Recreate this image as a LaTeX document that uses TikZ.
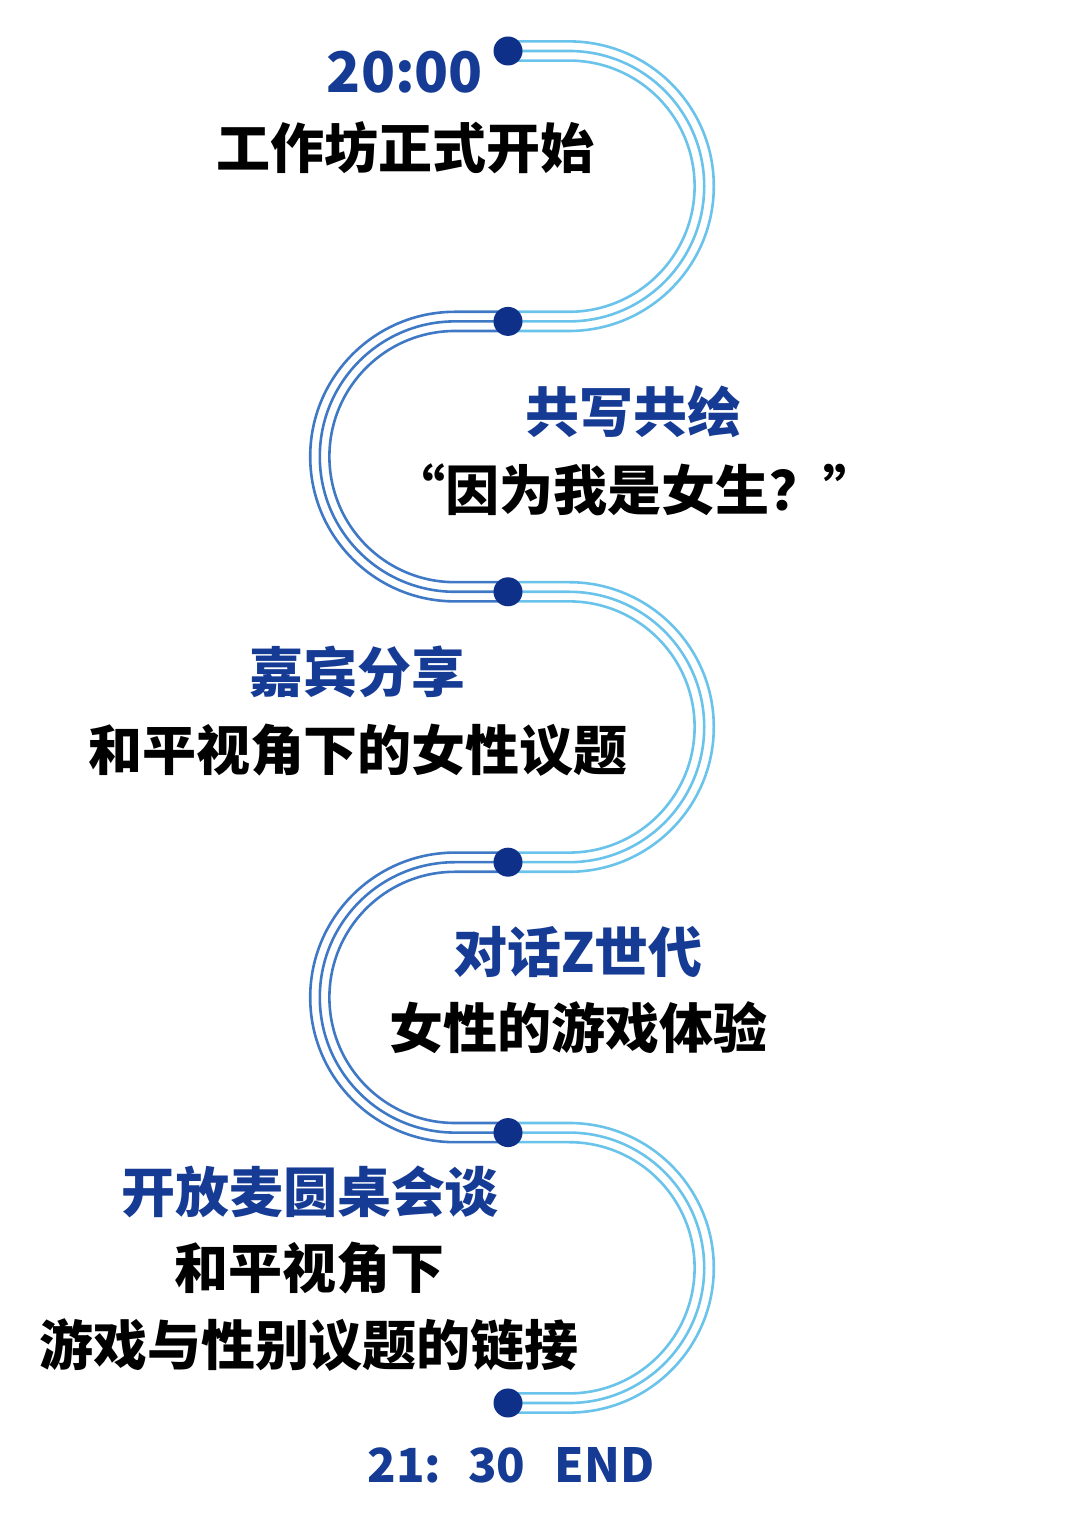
\documentclass[tikz,border=0pt]{standalone}
\usepackage{fontspec}
\setmainfont{Noto Sans CJK SC}
\begin{document}
\begin{tikzpicture}[x=1pt,y=1pt,
  lightline/.style={draw=trackLight,line width=2.6pt},
  darkline/.style={draw=trackDark,line width=2.6pt},
  dotmark/.style={circle,fill=dotBlue,minimum size=29pt,inner sep=0pt},
  bluetitle/.style={text=titleBlue,font=\bfseries\fontsize{54}{60}\selectfont,inner sep=0pt,anchor=center},
  blacktext/.style={text=black,font=\bfseries\fontsize{54}{60}\selectfont,inner sep=0pt,anchor=center}]
\definecolor{trackLight}{HTML}{6AC3EA}
\definecolor{trackDark}{HTML}{3F78C4}
\definecolor{dotBlue}{HTML}{0F3089}
\definecolor{titleBlue}{HTML}{153B95}
\useasboundingbox (0,0) rectangle (1080,1527);
\fill[white] (0,0) rectangle (1080,1527);
% dot positions
\coordinate (p0) at (508,1476);
\coordinate (p1) at (508,1205.6);
\coordinate (p2) at (508,935.2);
\coordinate (p3) at (508,664.8);
\coordinate (p4) at (508,394.4);
\coordinate (p5) at (508,124);
% right U-turns (light)
\foreach \a/\b in {p0/p1,p2/p3,p4/p5}{
  \foreach \d in {-9.6,0,9.6}{
    \draw[lightline] ([yshift=\d pt]\a) -- ++(61,0)
      arc[start angle=90,end angle=-90,radius=135.2+\d] -- ([yshift=-\d pt]\b);
  }
}
% left U-turns (dark)
\foreach \a/\b in {p1/p2,p3/p4}{
  \foreach \d in {-9.6,0,9.6}{
    \draw[darkline] ([yshift=\d pt]\a) -- ++(-53,0)
      arc[start angle=90,end angle=270,radius=135.2+\d] -- ([yshift=-\d pt]\b);
  }
}
% dots
\foreach \p in {p0,p1,p2,p3,p4,p5}{
  \node[dotmark] (d\p) at (\p) {};
}
% texts
\node[bluetitle,font=\bfseries\fontsize{56}{60}\selectfont] (t0) at (405,1455) {20:00};
\node[blacktext] (s0) at (405,1379) {工作坊正式开始};
\node[bluetitle] (t1) at (633,1115) {共写共绘};
\node[blacktext] (s1) at (634,1037) {“因为我是女生？”};
\node[bluetitle] (t2) at (357,855) {嘉宾分享};
\node[blacktext] (s2) at (358,777) {和平视角下的女性议题};
\node[bluetitle] (t3) at (578,575) {对话Z世代};
\node[blacktext] (s3) at (578,499) {女性的游戏体验};
\node[bluetitle] (t4) at (310,335) {开放麦圆桌会谈};
\node[blacktext] (s4a) at (309,259) {和平视角下};
\node[blacktext] (s4b) at (309,182) {游戏与性别议题的链接};
\node[bluetitle,font=\bfseries\fontsize{47}{50}\selectfont] (t5) at (511,62) {21:\hspace{27pt}30\hspace{29pt}END};
\end{tikzpicture}
\end{document}
